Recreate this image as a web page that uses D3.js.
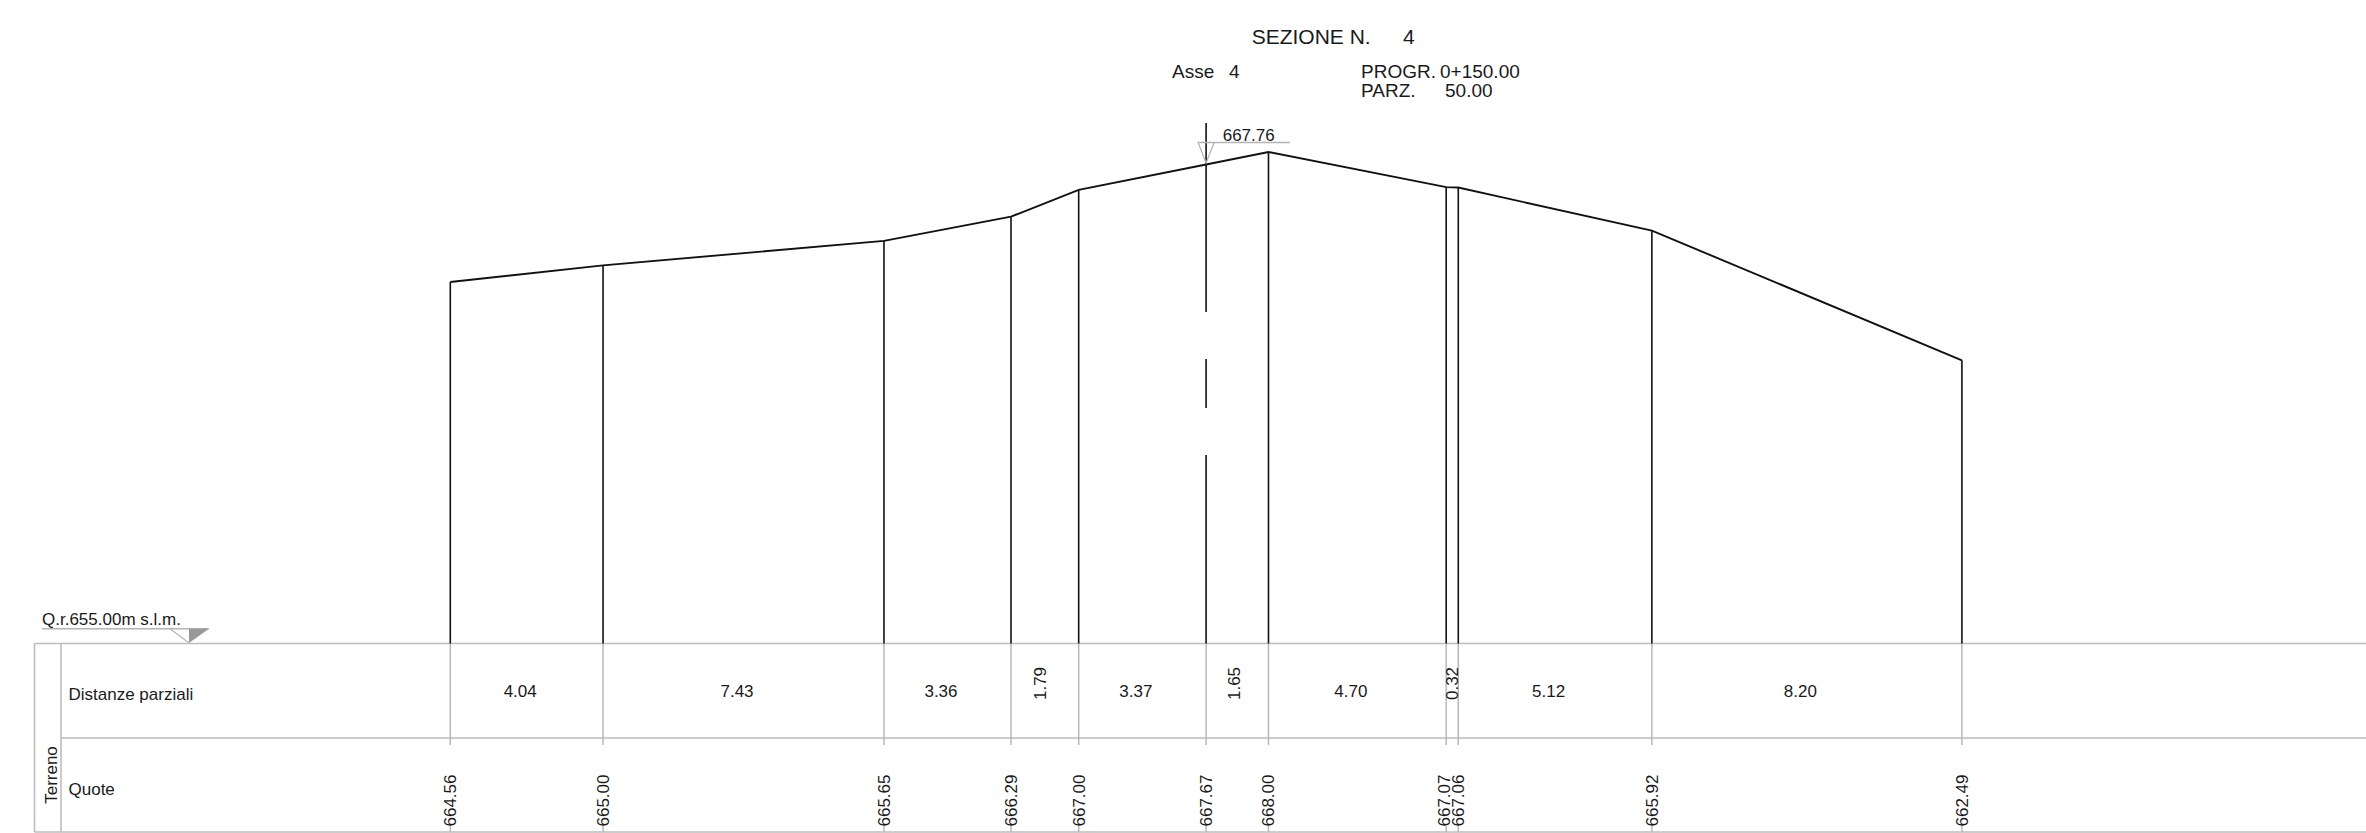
<!DOCTYPE html>
<html>
<head>
<meta charset="utf-8">
<script src="https://cdn.jsdelivr.net/npm/d3@7/dist/d3.min.js"></script>
<style>
html,body{margin:0;padding:0;background:#fff;overflow:hidden}
svg{display:block}
text{font-family:"Liberation Sans",Arial,sans-serif;fill:#1a1a1a}
</style>
</head>
<body>
<svg id="c" width="2366" height="833"></svg>
<script>
const quote = [664.56, 665.00, 665.65, 666.29, 667.00, 667.67, 668.00, 667.07, 667.06, 665.92, 662.49];
const parziali = [4.04, 7.43, 3.36, 1.79, 3.37, 1.65, 4.70, 0.32, 5.12, 8.20];
const parzialiLabels = ["4.04","7.43","3.36","1.79","3.37","1.65","4.70","0.32","5.12","8.20"];
const quoteLabels = ["664.56","665.00","665.65","666.29","667.00","667.67","668.00","667.07","667.06","665.92","662.49"];
const axisIndex = 5;
const axisLevel = 667.76;
const datum = 655;

const W = 2366, H = 833;
const svg = d3.select("#c");
const progressive = [0];
parziali.forEach(d => progressive.push(progressive[progressive.length - 1] + d));

const x = d3.scaleLinear().domain([0, 39.98]).range([450.3, 1961.9]);
const y = d3.scaleLinear().domain([datum, 668]).range([643.5, 152]);

const tTop = y(datum), tMid = 738, tBot = 832;
const black = "#111", grey = "#b4b4b4", tableGrey = "#bdbdbd";
const fs = 17;

function hl(x1, x2, yy, c, w) { svg.append("line").attr("x1", x1).attr("x2", x2).attr("y1", yy).attr("y2", yy).attr("stroke", c).attr("stroke-width", w); }
function vl(xx, y1, y2, c, w) { svg.append("line").attr("x1", xx).attr("x2", xx).attr("y1", y1).attr("y2", y2).attr("stroke", c).attr("stroke-width", w); }
function label(s, xx, yy, size, anchor) {
  return svg.append("text").attr("x", xx).attr("y", yy).attr("font-size", size).attr("text-anchor", anchor || "start").text(s);
}
function vlabel(s, xx, yy, size, anchor) {
  return svg.append("text").attr("transform", `translate(${xx},${yy}) rotate(-90)`).attr("font-size", size).attr("text-anchor", anchor || "middle").text(s);
}

// table frame
hl(34.5, W, tTop, tableGrey, 1.6);
hl(61, W, tMid, tableGrey, 1.6);
hl(34.5, W, tBot, tableGrey, 1.6);
vl(34.5, tTop, tBot, tableGrey, 1.6);
vl(61, tTop, tBot, tableGrey, 1.6);

// grey parts of the stations in the table
progressive.forEach(d => {
  vl(x(d), tTop, tMid + 7, grey, 1.4);
  vl(x(d), tBot - 6, tBot, grey, 1.4);
});

// black station lines, skipping the axis station
progressive.forEach((d, i) => {
  if (i !== axisIndex) vl(x(d), y(quote[i]), tTop, black, 1.6);
});

// axis line with its gaps
const ax = x(progressive[axisIndex]);
vl(ax, 123, 312, black, 1.6);
vl(ax, 359, 408, black, 1.6);
vl(ax, 455, tTop, black, 1.6);

// terrain profile
svg.append("path")
  .attr("d", d3.line().x((d, i) => x(progressive[i])).y(d => y(d))(quote))
  .attr("fill", "none").attr("stroke", black).attr("stroke-width", 1.9).attr("stroke-linejoin", "miter");

// axis level marker
const ly = 142.5;
hl(ax - 8, 1290, ly, grey, 1.3);
svg.append("path").attr("d", `M${ax - 8},${ly}L${ax + 8},${ly}L${ax},163Z`).attr("fill", "none").attr("stroke", grey).attr("stroke-width", 1.2);
label(axisLevel.toFixed(2), 1248.7, 141, fs, "middle");

// datum marker
hl(42, 209, 628.7, grey, 1.4);
svg.append("path").attr("d", "M189,628.7L209,628.7L189,643Z").attr("fill", "#999");
svg.append("path").attr("d", "M170,628.7L189,643").attr("stroke", grey).attr("stroke-width", 1.2).attr("fill", "none");
label("Q.r.655.00m s.l.m.", 42, 625, fs);

// headings
label("SEZIONE N.", 1251.7, 43.5, 21);
label("4", 1403, 43.5, 21);
label("Asse", 1172, 78, 19);
label("4", 1229, 78, 19);
label("PROGR.", 1361, 78, 19);
label("0+150.00", 1440, 78, 19);
label("PARZ.", 1361, 96.5, 19);
label("50.00", 1445, 96.5, 19);

// row labels
label("Distanze parziali", 68.5, 700, fs);
label("Quote", 68.5, 795, fs);
vlabel("Terreno", 57, 775, fs);

// partial distances: narrow cells carry the text upright beside their centre
const narrowShift = {3: 1.5, 5: 3, 7: 6};
parziali.forEach((d, i) => {
  const c = x((progressive[i] + progressive[i + 1]) / 2);
  if (d < 2) vlabel(parzialiLabels[i], c + narrowShift[i], 683.5, fs);
  else label(parzialiLabels[i], c - 6.5, 696.5, fs, "middle");
});

// elevations: the two close labels are nudged apart
const quoteShift = {7: -2};
quoteLabels.forEach((s, i) => {
  vlabel(s, x(progressive[i]) + 6 + (quoteShift[i] || 0), 826.5, fs, "start");
});
</script>
</body>
</html>
